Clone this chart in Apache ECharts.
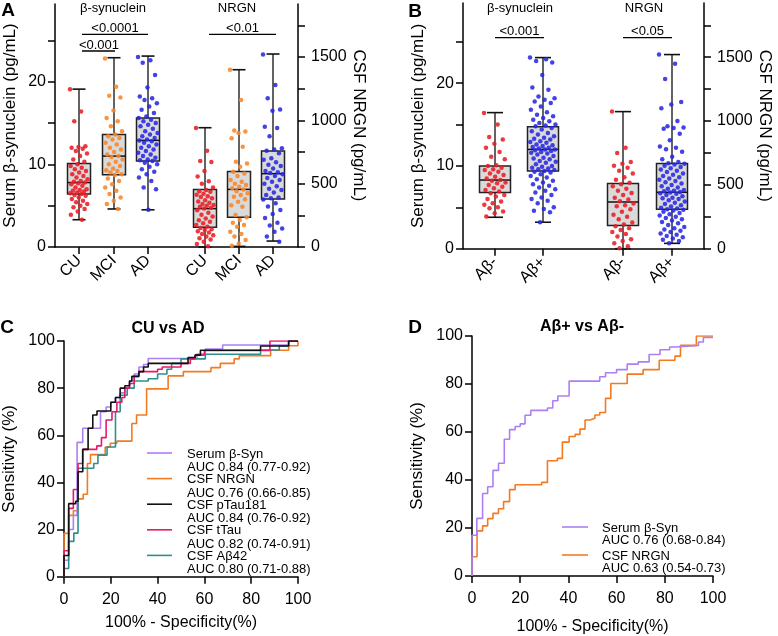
<!DOCTYPE html>
<html>
<head>
<meta charset="utf-8">
<script src="https://cdn.jsdelivr.net/npm/echarts@6.0.0/dist/echarts.min.js"></script>
<style>
  html, body { margin: 0; padding: 0; background: #fff; }
  #chart { width: 778px; height: 636px; }
</style>
</head>
<body>
<div id="chart"></div>
<script>
// ---- data ----
const groupsA = ['CU', 'MCI', 'AD'];
const groupsB = ['Aβ-', 'Aβ+'];

// box stats: [min, q1, median, q3, max]
const boxSynA = [[3.3, 6.4, 7.8, 10.1, 19.1], [4.6, 8.75, 11.0, 13.6, 22.9], [4.5, 10.4, 12.9, 15.6, 23.1]];
const boxNrgnA = [[0, 155, 303, 455, 942], [5, 234, 455, 597, 1400], [47, 379, 579, 758, 1524]];
const boxSynB = [[3.8, 6.8, 8.3, 10.0, 16.45], [3.2, 9.4, 12.0, 14.75, 23.1]];
const boxNrgnB = [[0, 182, 366, 510, 1074], [42, 310, 442, 668, 1521]];

// individual points
const synCU = [19.1, 16.4, 15.2, 12.2, 12.1, 12.0, 11.9, 11.6, 11.3, 11.0, 10.6, 10.3, 10.0, 9.8, 9.6, 9.4, 9.2, 9.0, 8.8, 8.6, 8.4, 8.2, 8.0, 7.9, 7.8, 7.7, 7.6, 7.4, 7.2, 7.0, 6.9, 6.8, 6.7, 6.6, 6.5, 6.4, 6.3, 6.2, 6.0, 5.8, 5.6, 5.4, 5.2, 5.0, 4.8, 4.6, 4.3, 3.9, 3.3];
const synMCI = [22.8, 19.4, 18.3, 18.1, 16.5, 15.6, 15.2, 14.6, 14.0, 13.6, 13.4, 13.2, 13.0, 12.6, 12.4, 12.0, 11.8, 11.5, 11.2, 11.0, 10.9, 10.6, 10.3, 10.0, 9.8, 9.5, 9.3, 9.2, 9.0, 8.8, 8.7, 8.3, 8.0, 7.6, 7.2, 6.8, 6.4, 6.0, 5.6, 5.2, 4.6];
const synAD = [23.0, 22.6, 22.3, 20.8, 19.3, 18.2, 18.0, 17.8, 17.4, 17.0, 16.6, 16.2, 15.8, 15.6, 15.4, 15.2, 15.0, 14.8, 14.6, 14.3, 14.0, 13.8, 13.6, 13.4, 13.2, 13.0, 12.9, 12.8, 12.6, 12.4, 12.2, 12.0, 11.8, 11.6, 11.4, 11.2, 11.0, 10.8, 10.6, 10.5, 10.4, 10.2, 10.0, 9.7, 9.4, 9.1, 8.8, 8.4, 8.0, 7.2, 7.0, 4.5];
const nrgnCU = [940, 760, 680, 672, 600, 556, 520, 500, 470, 450, 440, 437, 420, 412, 400, 395, 384, 370, 360, 350, 340, 331, 325, 318, 310, 305, 290, 271, 255, 240, 226, 212, 200, 188, 174, 160, 150, 140, 134, 124, 115, 103, 92, 82, 70, 60, 42, 24, 5];
const nrgnMCI = [1400, 1160, 920, 912, 900, 858, 792, 674, 660, 634, 595, 580, 560, 530, 516, 500, 490, 475, 463, 455, 440, 424, 410, 397, 378, 358, 330, 318, 253, 234, 213, 192, 174, 160, 121, 103, 82, 55, 28, 10];
const nrgnAD = [1521, 1280, 1175, 1085, 1075, 950, 940, 875, 780, 770, 760, 740, 700, 690, 670, 650, 640, 620, 600, 590, 585, 575, 560, 545, 530, 515, 500, 480, 460, 450, 430, 410, 390, 384, 375, 345, 320, 292, 260, 230, 192, 170, 147, 120, 82, 42];
const synNeg = [16.4, 15.0, 13.5, 13.2, 12.7, 12.2, 11.7, 11.1, 10.8, 10.1, 10.0, 9.8, 9.6, 9.5, 9.3, 9.1, 8.9, 8.7, 8.5, 8.3, 8.2, 8.0, 7.9, 7.7, 7.5, 7.3, 7.1, 6.9, 6.7, 6.5, 6.3, 6.0, 5.7, 5.5, 5.3, 5.0, 4.9, 4.5, 4.3, 3.9];
const synPos = [23.1, 22.9, 22.7, 22.5, 21.0, 19.5, 19.2, 18.4, 18.2, 18.0, 17.8, 17.6, 17.2, 16.8, 16.5, 16.2, 16.0, 15.8, 15.6, 15.4, 15.2, 15.0, 14.9, 14.8, 14.6, 14.4, 14.2, 14.0, 13.8, 13.6, 13.4, 13.3, 13.2, 13.0, 12.9, 12.8, 12.6, 12.5, 12.4, 12.3, 12.2, 12.1, 12.0, 12.0, 11.9, 11.8, 11.7, 11.6, 11.5, 11.4, 11.2, 11.0, 10.9, 10.8, 10.6, 10.5, 10.4, 10.2, 10.0, 9.9, 9.8, 9.7, 9.6, 9.5, 9.4, 9.3, 9.2, 9.0, 8.8, 8.6, 8.4, 8.2, 8.0, 7.8, 7.6, 7.4, 7.2, 7.0, 6.8, 6.5, 6.2, 6.0, 5.8, 5.5, 5.0, 4.8, 4.6, 4.4, 3.2];
const nrgnNeg = [1074, 790, 750, 680, 665, 650, 634, 610, 590, 560, 540, 516, 505, 489, 470, 455, 437, 420, 400, 385, 371, 355, 340, 332, 310, 290, 266, 250, 230, 205, 190, 175, 160, 147, 130, 115, 95, 75, 60, 42, 20, 3];
const nrgnPos = [1521, 1450, 1330, 1150, 1130, 1100, 1000, 960, 950, 945, 940, 900, 850, 800, 790, 780, 760, 720, 700, 680, 670, 665, 660, 650, 640, 630, 620, 610, 600, 590, 580, 570, 560, 550, 540, 530, 520, 510, 500, 490, 480, 470, 460, 455, 450, 445, 440, 435, 430, 420, 410, 400, 395, 390, 380, 370, 360, 350, 340, 330, 320, 315, 310, 305, 300, 290, 280, 270, 260, 250, 240, 230, 220, 210, 200, 185, 170, 160, 150, 140, 130, 120, 110, 100, 90, 80, 70, 60, 42];

// ROC curves [100-specificity, sensitivity]
const rocC_syn = [[0,0],[0,7],[2,9],[2,20],[4,26],[5.6,57],[8,63],[15.6,70],[18,72],[20,74],[22,76],[24,78],[26,80],[28,83],[30,86],[32,89],[34,90],[36,92.6],[56.8,94.5],[60.4,96.6],[67.8,98.3],[96,100],[100,100]];
const rocC_nrgn = [[0,0],[0,18.4],[2,26],[4,28],[6,33],[8.2,35],[10,48],[11.3,51.8],[17.6,55],[19.8,56.6],[22.6,57.5],[29,65],[31,68.6],[35.3,79.7],[44.5,85.2],[51,87],[62.8,88.7],[66.8,90.5],[72.7,92.4],[74.9,93.8],[88.3,96.1],[96,98],[100,100]];
const rocC_ptau = [[0,0],[0,9],[2,31],[5,32],[6,44.5],[8,54],[10.3,63],[12.3,68.6],[14.1,70.3],[20,74],[22,76],[24,80],[26,81],[28,83],[29,85],[32,87],[34,89],[36,90.5],[53,93],[56,94],[58.3,96.1],[84,97.9],[96,100],[100,100]];
const rocC_ttau = [[0,0],[0,11],[2,29],[4,37],[6,48],[8,54],[14,55.5],[16,59],[18,66.5],[20.5,70],[22.6,74],[24.7,76],[26,80],[28,82],[30,85],[32,87],[40,88],[42,89],[50,90.5],[54,92.4],[56,94],[60,96],[88,100],[100,100]];
const rocC_ab42 = [[0,0],[0,3.5],[2,15],[4.2,18.5],[6,46],[12.7,48],[14.5,51.6],[18.4,55],[22,70],[24,77],[27,80],[30,83],[36,84],[40,86],[44,88],[46,90.5],[50,92.4],[60.4,94.4],[84,96.2],[92,98],[96,100],[100,100]];
const rocD_syn = [[0,0],[0,17],[2,24],[4.4,34.4],[6.5,37.2],[8.7,44],[11,47],[13.4,57],[15.6,61],[17.9,62.3],[20,63.4],[22,67],[24.4,69],[31.3,70],[33.5,73],[35.6,75],[40.3,81.2],[53,83],[55.4,84.7],[60,86],[64.4,88.3],[69,89.2],[73.5,92.3],[78,94.3],[82,95.4],[84.6,96.1],[94,97.5],[96,99.4],[100,99.4]];
const rocD_nrgn = [[0,0],[0,8],[2.1,18.8],[4.4,20.9],[6.5,23.9],[8.7,26.1],[11,28],[13.1,31],[15.6,36],[17.9,38],[28.9,39],[31.3,48],[35.4,49],[37.5,55.8],[40.3,58.1],[42.8,59],[44.8,61.2],[46.9,65],[49,65.7],[51,67.1],[53,68.1],[55.4,74],[57.6,80.2],[64.4,84.1],[71,86],[77.7,89.9],[84.2,91.6],[86.5,96.1],[93.1,100],[100,100]];

const legendC = [['Serum β-Syn', 'AUC 0.84 (0.77-0.92)'], ['CSF NRGN', 'AUC 0.76 (0.66-0.85)'], ['CSF pTau181', 'AUC 0.84 (0.76-0.92)'], ['CSF tTau', 'AUC 0.82 (0.74-0.91)'], ['CSF Aβ42', 'AUC 0.80 (0.71-0.88)']];
const legendD = [['Serum β-Syn', 'AUC 0.76 (0.68-0.84)'], ['CSF NRGN', 'AUC 0.63 (0.54-0.73)']];

// ---- layout ----
const FONT = 'Liberation Sans, Arial, sans-serif';
const RED = '#ec1c24', ORANGE = '#f7862a', BLUE = '#2828e6';
const PURPLE = '#ac7ff2', LORANGE = '#f47a20', PINK = '#e8196c', TEAL = '#2f8f8e';
const posA = [24, 59, 93, 150, 184, 218];   // x centres inside grid A (px units)
const posB = [32, 80, 160, 209];

const chart = echarts.init(document.getElementById('chart'));

const axisLine = { show: true, lineStyle: { color: '#000', width: 1.5 } };
const tickStyle = { color: '#000', width: 1.5 };

function leftAxis(grid, max) {
  return {
    gridIndex: grid, type: 'value', min: 0, max: max, position: 'left',
    axisLine: axisLine,
    axisTick: { show: true, length: 7, lineStyle: tickStyle, customValues: [0, 5, 10, 15, 20, 25] },
    axisLabel: { customValues: [0, 10, 20], fontSize: 16, color: '#000', fontFamily: FONT, margin: 9 },
    splitLine: { show: false },
    name: 'Serum β-synuclein (pg/mL)', nameLocation: 'middle', nameGap: 36,
    nameTextStyle: { fontSize: 17, color: '#000', fontFamily: FONT }
  };
}
function rightAxis(grid, max) {
  return {
    gridIndex: grid, type: 'value', min: 0, max: max, position: 'right',
    axisLine: axisLine,
    axisTick: { show: true, length: 7, lineStyle: tickStyle, customValues: [0, 250, 500, 750, 1000, 1250, 1500, 1750] },
    axisLabel: { customValues: [0, 500, 1000, 1500], formatter: v => String(v), fontSize: 16, color: '#000', fontFamily: FONT, margin: 13 },
    splitLine: { show: false },
    name: 'CSF NRGN (pg/mL)', nameLocation: 'middle', nameGap: 51, nameRotate: -90,
    nameTextStyle: { fontSize: 17, color: '#000', fontFamily: FONT }
  };
}
function catAxis(grid, max, pos, names) {
  const map = {};
  pos.forEach((p, i) => { map[p] = names[i]; });
  return {
    gridIndex: grid, type: 'value', min: 0, max: max,
    axisLine: axisLine,
    axisTick: { show: true, length: 7, lineStyle: tickStyle, customValues: pos },
    axisLabel: { customValues: pos, formatter: v => map[v] || '', rotate: 45, fontSize: 16, color: '#000', fontFamily: FONT, margin: 11 },
    splitLine: { show: false }
  };
}
function rocX(grid, gap) {
  return {
    gridIndex: grid, type: 'value', min: 0, max: 100, interval: 20,
    axisLine: axisLine, axisTick: { show: true, length: 7, lineStyle: tickStyle },
    axisLabel: { fontSize: 16, color: '#000', fontFamily: FONT, margin: 15 },
    splitLine: { show: false },
    name: '100% - Specificity(%)', nameLocation: 'middle', nameGap: gap,
    nameTextStyle: { fontSize: 16, color: '#000', fontFamily: FONT }
  };
}
function rocY(grid) {
  return {
    gridIndex: grid, type: 'value', min: 0, max: 100, interval: 20,
    axisLine: axisLine, axisTick: { show: true, length: 7, lineStyle: tickStyle },
    axisLabel: { fontSize: 16, color: '#000', fontFamily: FONT, margin: 9 },
    splitLine: { show: false },
    name: 'Sensitivity (%)', nameLocation: 'middle', nameGap: 46,
    nameTextStyle: { fontSize: 17, color: '#000', fontFamily: FONT }
  };
}

function boxSeries(xi, yi, pos, stats, boxW, capW) {
  return {
    type: 'custom', xAxisIndex: xi, yAxisIndex: yi, z: 2, silent: true,
    data: stats.map((s, i) => [pos[i]].concat(s)),
    encode: { x: 0, y: [1, 2, 3, 4, 5] },
    renderItem: function (params, api) {
      const x = api.value(0);
      const p = [1, 2, 3, 4, 5].map(k => api.coord([x, api.value(k)]));
      const cx = p[0][0], h = boxW / 2, c = capW / 2;
      return {
        type: 'group', children: [
          { type: 'line', shape: { x1: cx, y1: p[4][1], x2: cx, y2: p[0][1] }, style: { stroke: '#3c3c3c', lineWidth: 1.6 } },
          { type: 'line', shape: { x1: cx - c, y1: p[4][1], x2: cx + c, y2: p[4][1] }, style: { stroke: '#111', lineWidth: 1.6 } },
          { type: 'line', shape: { x1: cx - c, y1: p[0][1], x2: cx + c, y2: p[0][1] }, style: { stroke: '#111', lineWidth: 1.6 } },
          { type: 'rect', shape: { x: cx - h, y: p[3][1], width: boxW, height: p[1][1] - p[3][1] }, style: { fill: '#dadada', stroke: '#222', lineWidth: 1.5 } },
          { type: 'line', shape: { x1: cx - h, y1: p[2][1], x2: cx + h, y2: p[2][1] }, style: { stroke: '#111', lineWidth: 1.5 } }
        ]
      };
    }
  };
}
// horizontal scatter of the points around the group centre (layout only)
function spreadAt(i) {
  const f = (i * 0.6180339887) % 1;
  return (f - 0.5) * 2;
}
function dots(xi, yi, x0, vals, spread, color) {
  return {
    type: 'scatter', xAxisIndex: xi, yAxisIndex: yi, z: 3, silent: true,
    symbolSize: 4.5, itemStyle: { color: color, opacity: 0.88 },
    data: vals.map((v, i) => [x0 + spreadAt(i) * spread, v])
  };
}
function roc(xi, yi, data, color) {
  return {
    type: 'line', xAxisIndex: xi, yAxisIndex: yi, step: 'end', showSymbol: false, symbol: 'none',
    silent: true, lineStyle: { color: color, width: 1.6 }, data: data
  };
}

function txt(x, y, s, size, bold) {
  return { type: 'text', x: x, y: y,
    style: { text: s, font: (bold ? 'bold ' : '') + size + 'px ' + FONT, fill: '#000', align: 'center', verticalAlign: 'middle' } };
}
function txtL(x, y, s, size) {
  return { type: 'text', x: x, y: y, style: { text: s, font: size + 'px ' + FONT, fill: '#000', align: 'left', verticalAlign: 'middle' } };
}
function hline(x1, x2, y, color, w) {
  return { type: 'line', shape: { x1: x1, y1: y, x2: x2, y2: y }, style: { stroke: color, lineWidth: w } };
}

const graphics = [
  txt(8, 11, 'A', 19, true), txt(415, 12, 'B', 19, true),
  txt(7, 328, 'C', 19, true), txt(415, 328, 'D', 19, true),
  txt(113, 8, 'β-synuclein', 13), txt(237, 8, 'NRGN', 13),
  txt(520, 8, 'β-synuclein', 13), txt(644, 8, 'NRGN', 13),
  hline(82, 148, 34.3, '#000', 1.3), txt(115, 28, '<0.0001', 13),
  hline(82, 115, 51, '#000', 1.3), txt(99, 45, '<0.001', 13),
  hline(209, 276, 34.3, '#000', 1.3), txt(242.5, 28, '<0.01', 13),
  hline(495, 544, 37.7, '#000', 1.3), txt(519.5, 31.5, '<0.001', 13),
  hline(623, 672, 37.7, '#000', 1.3), txt(647.5, 31.5, '<0.05', 13),
  txt(168, 329, 'CU vs AD', 16, true), txt(582, 327, 'Aβ+ vs Aβ-', 16, true)
];
const colC = [PURPLE, LORANGE, '#111', PINK, TEAL];
legendC.forEach((l, i) => {
  const y = 453 + i * 25.6;
  graphics.push(hline(147, 172, y, colC[i], 1.6));
  graphics.push(txtL(187, y + 1, l[0], 13));
  graphics.push(txtL(187, y + 14.5, l[1], 13));
});
const colD = [PURPLE, LORANGE];
legendD.forEach((l, i) => {
  const y = 527 + i * 28;
  graphics.push(hline(562, 588, y, colD[i], 1.6));
  graphics.push(txtL(602, y + 1.5, l[0], 13));
  graphics.push(txtL(602, y + 13.5, l[1], 13));
});

const option = {
  animation: false,
  backgroundColor: '#fff',
  textStyle: { fontFamily: FONT },
  grid: [
    { left: 55, top: 4, width: 243, height: 243 },
    { left: 463, top: 3, width: 241, height: 245.7 },
    { left: 62, top: 341, width: 236, height: 235.7 },
    { left: 472, top: 336, width: 241, height: 241 }
  ],
  xAxis: [
    catAxis(0, 243, posA, groupsA.concat(groupsA)),
    catAxis(1, 241, posB, groupsB.concat(groupsB)),
    rocX(2, 38),
    rocX(3, 43)
  ],
  yAxis: [
    leftAxis(0, 29.4), rightAxis(0, 1919),
    leftAxis(1, 29.7), rightAxis(1, 1925),
    rocY(2), rocY(3)
  ],
  series: [
    boxSeries(0, 0, posA.slice(0, 3), boxSynA, 23, 13),
    boxSeries(0, 1, posA.slice(3), boxNrgnA, 23, 13),
    boxSeries(1, 2, posB.slice(0, 2), boxSynB, 31, 16),
    boxSeries(1, 3, posB.slice(2), boxNrgnB, 31, 16),
    dots(0, 0, posA[0], synCU, 9, RED),
    dots(0, 0, posA[1], synMCI, 9, ORANGE),
    dots(0, 0, posA[2], synAD, 10, BLUE),
    dots(0, 1, posA[3], nrgnCU, 9, RED),
    dots(0, 1, posA[4], nrgnMCI, 9, ORANGE),
    dots(0, 1, posA[5], nrgnAD, 10, BLUE),
    dots(1, 2, posB[0], synNeg, 11, RED),
    dots(1, 2, posB[1], synPos, 13, BLUE),
    dots(1, 3, posB[2], nrgnNeg, 11, RED),
    dots(1, 3, posB[3], nrgnPos, 13, BLUE),
    roc(2, 4, rocC_nrgn, LORANGE),
    roc(2, 4, rocC_syn, PURPLE),
    roc(2, 4, rocC_ab42, TEAL),
    roc(2, 4, rocC_ttau, PINK),
    roc(2, 4, rocC_ptau, '#111'),
    roc(3, 5, rocD_nrgn, LORANGE),
    roc(3, 5, rocD_syn, PURPLE)
  ],
  graphic: graphics
};
chart.setOption(option);
</script>
</body>
</html>
